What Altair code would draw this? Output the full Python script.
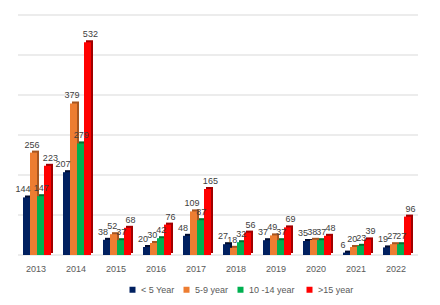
import altair as alt
import pandas as pd

years = ["2013", "2014", "2015", "2016", "2017", "2018", "2019", "2020", "2021", "2022"]
series = ["< 5 Year", "5-9 year", "10 -14  year", ">15 year"]
under5 = [144, 207, 38, 20, 48, 27, 37, 35, 6, 19]
y5_9 = [256, 379, 52, 30, 109, 18, 49, 38, 20, 27]
y10_14 = [147, 279, 37, 42, 87, 32, 37, 37, 23, 27]
over15 = [223, 532, 68, 76, 165, 56, 69, 48, 39, 96]
grid_values = [0, 100, 200, 300, 400, 500, 600]
colors = ["#002060", "#ED7D31", "#00B050", "#FF0000"]
dark_colors = ["#000C30", "#A8561F", "#00702F", "#A00000"]

rows = []
for s, vals in zip(series, [under5, y5_9, y10_14, over15]):
    for y, v in zip(years, vals):
        rows.append({"year": y, "series": s, "value": v})
df = pd.DataFrame(rows)
grid_df = pd.DataFrame({"value": grid_values})

x = alt.X("year:N", sort=years, title=None,
          scale=alt.Scale(paddingInner=0.25, paddingOuter=0.125),
          axis=alt.Axis(labelAngle=0, labelFontSize=9, labelColor="#595959",
                        labelFont="Liberation Sans", domain=False, ticks=False,
                        labelPadding=9, labelOffset=-2, grid=False))
yscale = alt.Scale(domain=[0, 600], nice=False)
y = alt.Y("value:Q", title=None, scale=yscale, axis=None)

grid = alt.Chart(grid_df).mark_rule(color="#D9D9D9", strokeWidth=1).encode(y=y)

base = alt.Chart(df)

shadow = base.mark_bar(yOffset=-2).encode(
    x=x,
    xOffset=alt.XOffset("series:N", sort=series,
                        scale=alt.Scale(paddingInner=0, paddingOuter=0.143, align=1)),
    y=y,
    color=alt.Color("series:N", sort=series,
                    scale=alt.Scale(domain=series, range=dark_colors), legend=None),
)

xo = alt.XOffset("series:N", sort=series,
                 scale=alt.Scale(paddingInner=0, paddingOuter=0.143, align=0))

bars = base.mark_bar().encode(
    x=x, xOffset=xo, y=y,
    color=alt.Color("series:N", sort=series,
                    scale=alt.Scale(domain=series, range=colors),
                    legend=alt.Legend(title=None, orient="none", direction="horizontal",
                                      legendX=110, legendY=270, symbolType="square",
                                      symbolSize=36, labelFontSize=9, labelColor="#595959",
                                      labelFont="Liberation Sans", columnPadding=7,
                                      symbolStrokeWidth=0)),
)

labels = base.mark_text(dy=-8, fontSize=9, color="#404040", font="Liberation Sans").encode(
    x=x, xOffset=xo, y=y, text="value:Q",
)

chart = alt.layer(grid, shadow, bars, labels).resolve_scale(
    color="independent", xOffset="independent"
).properties(
    width=400, height=240,
    autosize=alt.AutoSizeParams(type="none"),
    padding={"left": 18, "top": 15, "right": 22, "bottom": 50},
).configure_view(stroke=None)

chart.save("out.html", embed_options={"renderer": "svg", "actions": False})
